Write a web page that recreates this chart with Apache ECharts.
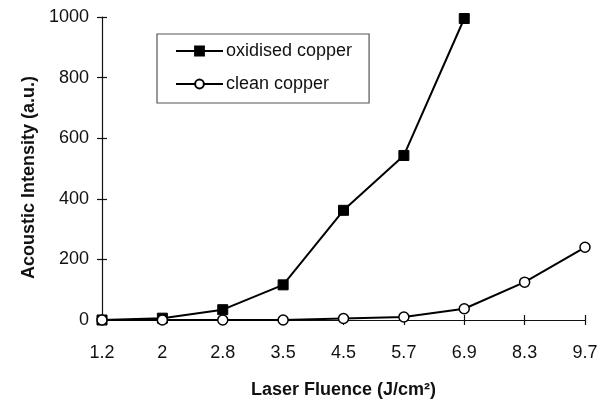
<!DOCTYPE html>
<html><head><meta charset="utf-8">
<script src="https://cdn.jsdelivr.net/npm/echarts@6/dist/echarts.min.js"></script>
<style>html,body{margin:0;padding:0;background:#fff}#c{width:605px;height:404px}</style>
</head><body><div id="c"></div>
<script>
const categories = ['1.2','2','2.8','3.5','4.5','5.7','6.9','8.3','9.7'];
const oxidised = [0, 6, 34, 116, 362, 543, 995, null, null];
const clean = [0, 0, 0, 0, 5, 10, 37, 125, 240];
const yTicks = {min: 0, max: 1000, interval: 200};
const FONT = 'Liberation Sans';
const chart = echarts.init(document.getElementById('c'));
const axisLineStyle = {color: '#111', width: 1.2};
chart.setOption({
  animation: false,
  backgroundColor: '#fff',
  textStyle: {fontFamily: FONT},
  grid: {left: 102, right: 20, top: 17, bottom: 77},
  legend: {
    orient: 'vertical', left: 157, top: 34,
    padding: [8, 17, 10, 18], itemGap: 15,
    borderColor: '#555', borderWidth: 1.2,
    itemWidth: 47, itemHeight: 11,
    textStyle: {fontFamily: FONT, fontSize: 18, color: '#111', padding: [0,0,0,-2]},
    data: ['oxidised copper', 'clean copper']
  },
  xAxis: [{
    type: 'category', data: categories, boundaryGap: false,
    name: 'Laser Fluence (J/cm²)', nameLocation: 'middle', nameGap: 61,
    nameTextStyle: {fontFamily: FONT, fontSize: 18, fontWeight: 'bold', color: '#111'},
    axisLine: {lineStyle: axisLineStyle},
    axisTick: {show: true, length: 5, lineStyle: axisLineStyle, alignWithLabel: true},
    axisLabel: {fontFamily: FONT, fontSize: 18, color: '#111', margin: 24},
    splitLine: {show: false}
  }, {
    type: 'category', data: categories, boundaryGap: false, position: 'bottom',
    axisLine: {show: false},
    axisTick: {show: true, inside: true, length: 5, lineStyle: axisLineStyle},
    axisLabel: {show: false}, splitLine: {show: false}
  }],
  yAxis: [{
    type: 'value', min: yTicks.min, max: yTicks.max, interval: yTicks.interval,
    name: 'Acoustic Intensity (a.u.)', nameLocation: 'middle', nameGap: 64,
    nameTextStyle: {fontFamily: FONT, fontSize: 18, fontWeight: 'bold', color: '#111', padding: [0, 18, 0, 0]},
    axisLine: {show: true, lineStyle: axisLineStyle},
    axisTick: {show: true, length: 5, lineStyle: axisLineStyle},
    axisLabel: {fontFamily: FONT, fontSize: 18, color: '#111', margin: 13, formatter: v => String(v)},
    splitLine: {show: false}
  }, {
    type: 'value', min: yTicks.min, max: yTicks.max, interval: yTicks.interval, position: 'left',
    axisLine: {show: false},
    axisTick: {show: true, inside: true, length: 5, lineStyle: axisLineStyle},
    axisLabel: {show: false}, splitLine: {show: false}
  }],
  series: [{
    name: 'oxidised copper', type: 'line', data: oxidised,
    symbol: 'rect', symbolSize: 10,
    lineStyle: {color: '#000', width: 2},
    itemStyle: {color: '#000', borderColor: '#000', borderWidth: 1},
    z: 3
  }, {
    name: 'clean copper', type: 'line', data: clean,
    symbol: 'circle', symbolSize: 10, showAllSymbol: true,
    lineStyle: {color: '#000', width: 2},
    itemStyle: {color: '#fff', borderColor: '#000', borderWidth: 1.5},
    z: 4
  }]
});
</script></body></html>
